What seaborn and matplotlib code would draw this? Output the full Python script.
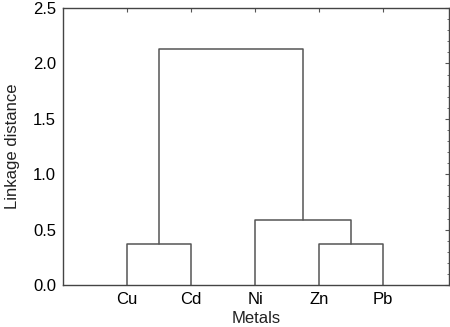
import pandas as pd
import matplotlib
matplotlib.use('Agg')
import matplotlib.pyplot as plt
from matplotlib.ticker import MultipleLocator
import seaborn as sns

# Hoja del dendrograma y uniones (nodo izquierdo, nodo derecho, altura)
metales = ['Cu', 'Cd', 'Ni', 'Zn', 'Pb']
union_izq = ['Cu', 'Zn', 'Ni', 'Cu+Cd']
union_der = ['Cd', 'Pb', 'Zn+Pb', 'Ni+Zn+Pb']
union_altura = [0.37, 0.37, 0.59, 2.13]

# Posiciones de cada nodo
pos = {m: i + 1 for i, m in enumerate(metales)}
alt = {m: 0.0 for m in metales}
filas = []
for k, (a, b, h) in enumerate(zip(union_izq, union_der, union_altura)):
    filas += [
        {'seg': k, 'x': pos[a], 'y': alt[a]},
        {'seg': k, 'x': pos[a], 'y': h},
        {'seg': k, 'x': pos[b], 'y': h},
        {'seg': k, 'x': pos[b], 'y': alt[b]},
    ]
    nuevo = a + '+' + b
    pos[nuevo] = (pos[a] + pos[b]) / 2
    alt[nuevo] = h
df = pd.DataFrame(filas)

sns.set_style('ticks')
plt.rcParams['font.family'] = ['Liberation Sans', 'DejaVu Sans']

fig = plt.figure(figsize=(4.5, 3.27), dpi=100)
ax = fig.add_axes([0.14, 0.128, 0.858, 0.8475])
sns.lineplot(data=df, x='x', y='y', units='seg', estimator=None, sort=False,
             color='#555555', linewidth=1.1, ax=ax)

ax.set_xlim(0, 6.03)
ax.set_ylim(0, 2.5)
ax.set_xticks(range(1, len(metales) + 1))
ax.set_xticklabels(metales, fontsize=12, color='black')
ax.set_yticks([0, 0.5, 1.0, 1.5, 2.0, 2.5])
ax.set_yticklabels(['0.0', '0.5', '1.0', '1.5', '2.0', '2.5'], fontsize=12,
                   color='black')
ax.yaxis.set_minor_locator(MultipleLocator(0.1))
ax.tick_params(axis='y', which='both', direction='in', left=False, right=True,
               labelleft=True, length=3, color='#555555', pad=5)
ax.tick_params(axis='y', which='minor', length=1.5)
ax.tick_params(axis='x', direction='in', bottom=False, top=True, length=3,
               color='#555555', pad=5)
ax.set_xlabel('Metals', fontsize=12, labelpad=3, color='#222222')
ax.set_ylabel('Linkage distance', fontsize=12, labelpad=9, color='#222222')
for s in ax.spines.values():
    s.set_color('#444444')
    s.set_linewidth(1.0)

fig.savefig('out.png', dpi=100)
plt.close(fig)
